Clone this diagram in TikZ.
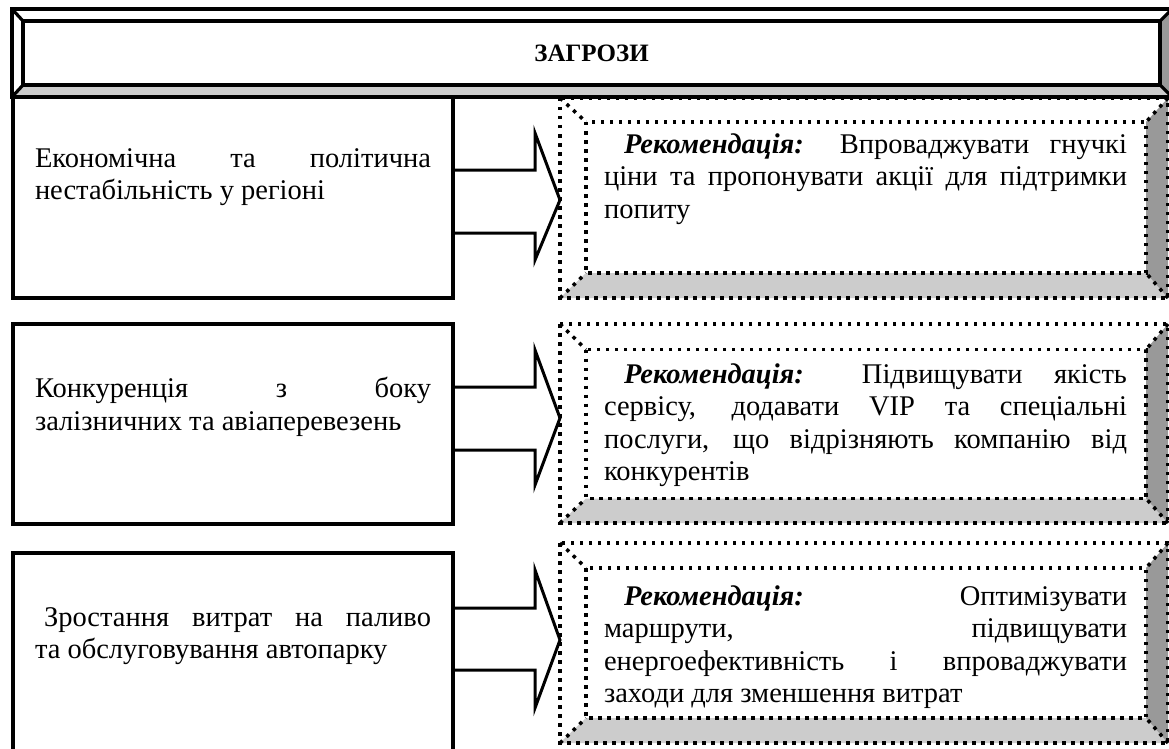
\documentclass[tikz,border=0pt]{standalone}
\usepackage{fontspec}
\setmainfont{Liberation Serif}
\usetikzlibrary{calc}
\begin{document}
\begin{tikzpicture}[x=1pt,y=-1pt,
  every node/.style={inner sep=0pt, outer sep=0pt},
  frame/.style={draw=black, line width=3.2pt},
  dotframe/.style={draw=black, line width=3.5pt, dash pattern=on 3.5pt off 5.5pt},
  block/.style={draw=black, line width=3pt, line join=miter},
  body/.style={font=\fontsize{28.5}{32.5}\selectfont, align=left, anchor=north west},
  lbody/.style={font=\fontsize{28.5}{32.5}\selectfont, align=left},
  lightbevel/.style={fill=gray!40},
  darkbevel/.style={fill=gray!80},
]
\useasboundingbox (0,0) rectangle (1169,749);
\fill[white] (0,0) rectangle (1169,749);

% ---------- title ----------
\coordinate (to1) at (12,9);
\coordinate (to2) at (1172,97);
\node[minimum width=1137pt, minimum height=64pt] (title) at (591.5,53) {};
\fill[lightbevel] (to1|-to2) -- (title.south west) -- (title.south east) -- (to2) -- cycle;
\fill[darkbevel] (to2) -- (title.south east) -- (title.north east) -- (to2|-to1) -- cycle;
\draw[frame] (to1) rectangle (to2);
\draw[frame] (title.north west) rectangle (title.south east);
\draw[frame] (to1) -- (title.north west);
\draw[frame] (to1|-to2) -- (title.south west);
\draw[frame] (to2) -- (title.south east);
\draw[frame] (to2|-to1) -- (title.north east);
\node[font=\fontsize{25}{30}\selectfont\bfseries] (titletext) at (title.center) {ЗАГРОЗИ};

% ---------- left boxes ----------
\node[frame, minimum width=440pt, minimum height=201pt] (l1) at (233,197.5) {};
\node[frame, minimum width=440pt, minimum height=200pt] (l2) at (233,424) {};
\node[frame, minimum width=440pt, minimum height=220pt] (l3) at (233,663) {};

\node[lbody] (l1t) at (233,177) {\hbox to 396pt{Економічна та політична}\\нестабільність у регіоні\hfill};
\node[lbody] (l2t) at (233,407) {\hbox to 396pt{Конкуренція з боку}\\залізничних та авіаперевезень\hfill};
\node[lbody] (l3t) at (233,636) {\hbox to 396pt{\hspace*{9pt}Зростання витрат на паливо}\\та обслуговування автопарку\hfill};

% ---------- right boxes ----------
\coordinate (r1a) at (560,98);
\coordinate (r1b) at (1168,298);
\node[minimum width=560pt, minimum height=151pt] (r1) at (866,197.5) {};
\coordinate (r2a) at (560,324);
\coordinate (r2b) at (1168,523);
\node[minimum width=560pt, minimum height=149pt] (r2) at (866,424) {};
\coordinate (r3a) at (560,543);
\coordinate (r3b) at (1168,743);
\node[minimum width=560pt, minimum height=150pt] (r3) at (866,643) {};

\foreach \r in {r1,r2,r3}{
  \fill[lightbevel] (\r a|-\r b) -- (\r.south west) -- (\r.south east) -- (\r b) -- cycle;
  \fill[darkbevel] (\r b) -- (\r.south east) -- (\r.north east) -- (\r b|-\r a) -- cycle;
  \draw[dotframe] (\r a) rectangle (\r b);
  \draw[dotframe] (\r.north west) rectangle (\r.south east);
  \draw[dotframe] (\r a) -- (\r.north west);
  \draw[dotframe] (\r a|-\r b) -- (\r.south west);
  \draw[dotframe] (\r b) -- (\r.south east);
  \draw[dotframe] (\r b|-\r a) -- (\r.north east);
}

\node[body] (r1t) at (604,133.5) {%
\hbox to 523pt{\hspace*{20pt}\textbf{\textit{Рекомендація:}} Впроваджувати гнучкі}\\
\hbox to 523pt{ціни та пропонувати акції для підтримки}\\
попиту};
\node[body] (r2t) at (604,363.5) {%
\hbox to 523pt{\hspace*{20pt}\textbf{\textit{Рекомендація:}} Підвищувати якість}\\
\hbox to 523pt{сервісу, додавати VIP та спеціальні}\\
\hbox to 523pt{послуги, що відрізняють компанію від}\\
конкурентів};
\node[body] (r3t) at (604,585.5) {%
\hbox to 523pt{\hspace*{20pt}\textbf{\textit{Рекомендація:}} Оптимізувати}\\
\hbox to 523pt{маршрути, підвищувати}\\
\hbox to 523pt{енергоефективність і впроваджувати}\\
заходи для зменшення витрат};

% ---------- block arrows ----------
\draw[block] (l1.east|-0,170) -- (535,170) -- (535,133) -- (r1a|-0,200) -- (535,260) -- (535,233) -- (l1.east|-0,233);
\draw[block] (l2.east|-0,387) -- (535,387) -- (535,350) -- (r2a|-0,418) -- (535,485) -- (535,450) -- (l2.east|-0,450);
\draw[block] (l3.east|-0,608) -- (535,608) -- (535,570) -- (r3a|-0,640) -- (535,708) -- (535,670) -- (l3.east|-0,670);
\end{tikzpicture}
\end{document}
